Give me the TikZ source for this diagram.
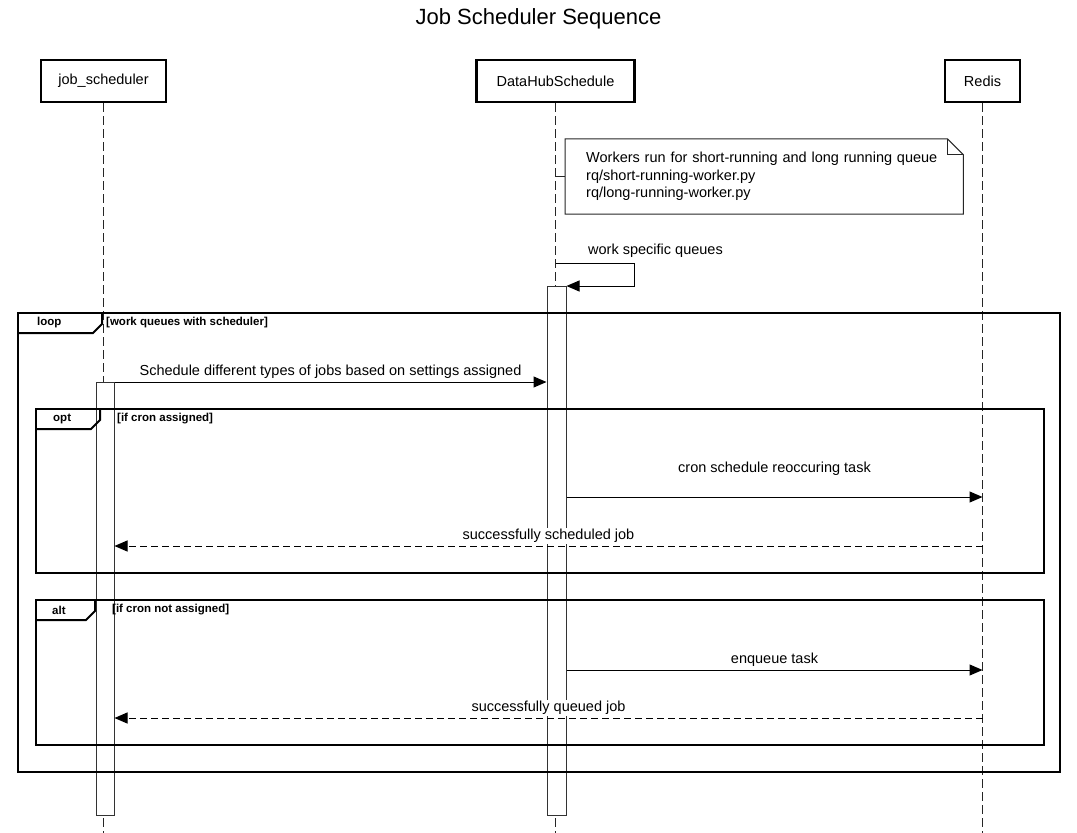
\documentclass[tikz,border=0pt]{standalone}
\usepackage{fontspec}
\setmainfont{Liberation Sans}
\usetikzlibrary{positioning,arrows.meta}

\begin{document}
\begin{tikzpicture}[x=1pt, y=-1pt, node distance=308pt,
actor/.style={rectangle, draw=black, fill=white, line width=2.5pt, minimum height=42pt, font=\fontsize{14.5}{17}\selectfont},
lifeline/.style={draw=black!85, line width=1pt, dash pattern=on 9pt off 4pt},
actbar/.style={rectangle, draw=black!80, fill=white, line width=1pt, minimum width=18pt, inner sep=0pt, anchor=north},
framebox/.style={rectangle, draw=black, line width=2pt, inner sep=0pt, anchor=north west},
tabline/.style={draw=black, line width=2pt},
tabtext/.style={font=\bfseries\fontsize{11.5}{13}\selectfont, inner sep=0pt, anchor=west},
guard/.style={font=\bfseries\fontsize{11.5}{13}\selectfont, inner sep=0pt, anchor=west},
msg/.style={draw=black, line width=1pt, -{Triangle[length=13pt,width=11pt]}},
reply/.style={msg, dash pattern=on 7pt off 4pt},
msgtext/.style={fill=white, inner sep=1pt, font=\fontsize{14.5}{17}\selectfont},
notetext/.style={fill=white, align=left, text width=356pt, inner xsep=21pt, minimum height=75pt, font=\fontsize{14.5}{17.5}\selectfont},
notebox/.style={draw=black!85, line width=1pt},
]
\useasboundingbox (0,0) rectangle (1077,833);

% title
\node[font=\fontsize{22}{26}\selectfont] (title) at (538.5,19) {Job Scheduler Sequence};

% participants
\node[actor, minimum width=125pt] (job) at (103.5,81) {job\_scheduler};
\node[actor, minimum width=158pt, right=of job] (datahub) {DataHubSchedule};
\node[actor, minimum width=75pt, right=of datahub] (redis) {Redis};

% lifelines
\draw[lifeline] (job.south) -- (job.south |- 0,833);
\draw[lifeline] (datahub.south) -- (datahub.south |- 0,833);
\draw[lifeline] (redis.south) -- (redis.south |- 0,833);

% activations
\node[actbar, minimum height=433pt] (jobbar) at (105,382) {};
\node[actbar, minimum height=529pt, minimum width=19pt] (hubbar) at (556.5,286) {};

% note
\node[notetext, anchor=west] (note) at (565,176.5) {Workers run for short-running and long running queue\\rq/short-running-worker.py\\rq/long-running-worker.py};
\draw[notebox] (note.north west) -- ([xshift=-16pt]note.north east) -- ([yshift=-16pt]note.north east) -- (note.south east) -- (note.south west) -- cycle;
\draw[notebox] ([xshift=-16pt]note.north east) -- ([xshift=-16pt, yshift=-16pt]note.north east) -- ([yshift=-16pt]note.north east);
\draw[notebox] (note.west -| datahub.south) -- (note.west);

% self call
\coordinate (self_out) at (datahub.south |- 0,263);
\draw[msg] (self_out) -- ++(79,0) -- ++(0,23) -- (hubbar.north east);
\node[msgtext, anchor=west] (self_label) at (587,251) {work specific queues};

% frames
\node[framebox, minimum width=1042pt, minimum height=459pt] (loopbox) at (17,312) {};
\draw[tabline] ([xshift=85pt]loopbox.north west) -- ([xshift=85pt, yshift=-12pt]loopbox.north west) -- ([xshift=76pt, yshift=-21pt]loopbox.north west) -- ([yshift=-21pt]loopbox.north west);
\node[tabtext] (looptab) at ([xshift=20pt, yshift=-11pt]loopbox.north west) {loop};
\node[guard] (loopguard) at (106,323) {[work queues with scheduler]};

\node[framebox, minimum width=1008pt, minimum height=164pt] (optbox) at (35,408) {};
\draw[tabline] ([xshift=65pt]optbox.north west) -- ([xshift=65pt, yshift=-12pt]optbox.north west) -- ([xshift=56pt, yshift=-21pt]optbox.north west) -- ([yshift=-21pt]optbox.north west);
\node[tabtext] (opttab) at ([xshift=18pt, yshift=-11pt]optbox.north west) {opt};
\node[guard] (optguard) at (117,419) {[if cron assigned]};

\node[framebox, minimum width=1008pt, minimum height=145pt] (altbox) at (35,599) {};
\draw[tabline] ([xshift=60pt]altbox.north west) -- ([xshift=60pt, yshift=-12pt]altbox.north west) -- ([xshift=51pt, yshift=-21pt]altbox.north west) -- ([yshift=-21pt]altbox.north west);
\node[tabtext] (alttab) at ([xshift=17pt, yshift=-11pt]altbox.north west) {alt};
\node[guard] (altguard) at (112,610) {[if cron not assigned]};

% messages
\draw[msg] (jobbar.north east) -- (jobbar.north east -| hubbar.west) node[msgtext, midway, above=2pt] {Schedule different types of jobs based on settings assigned};

\coordinate (cron_hub) at (hubbar.east |- 0,497);
\coordinate (cron_redis) at (redis.south |- 0,497);
\draw[msg] (cron_hub) -- (cron_redis) node[msgtext, midway, above=20pt] {cron schedule reoccuring task};

\coordinate (done_redis) at (redis.south |- 0,546);
\coordinate (done_job) at (jobbar.east |- 0,546);
\draw[reply] (done_redis) -- (done_job) node[msgtext, midway, above=2pt] {successfully scheduled job};

\coordinate (enq_hub) at (hubbar.east |- 0,670);
\coordinate (enq_redis) at (redis.south |- 0,670);
\draw[msg] (enq_hub) -- (enq_redis) node[msgtext, midway, above=2pt] {enqueue task};

\coordinate (queued_redis) at (redis.south |- 0,718);
\coordinate (queued_job) at (jobbar.east |- 0,718);
\draw[reply] (queued_redis) -- (queued_job) node[msgtext, midway, above=2pt] {successfully queued job};

\end{tikzpicture}
\end{document}
